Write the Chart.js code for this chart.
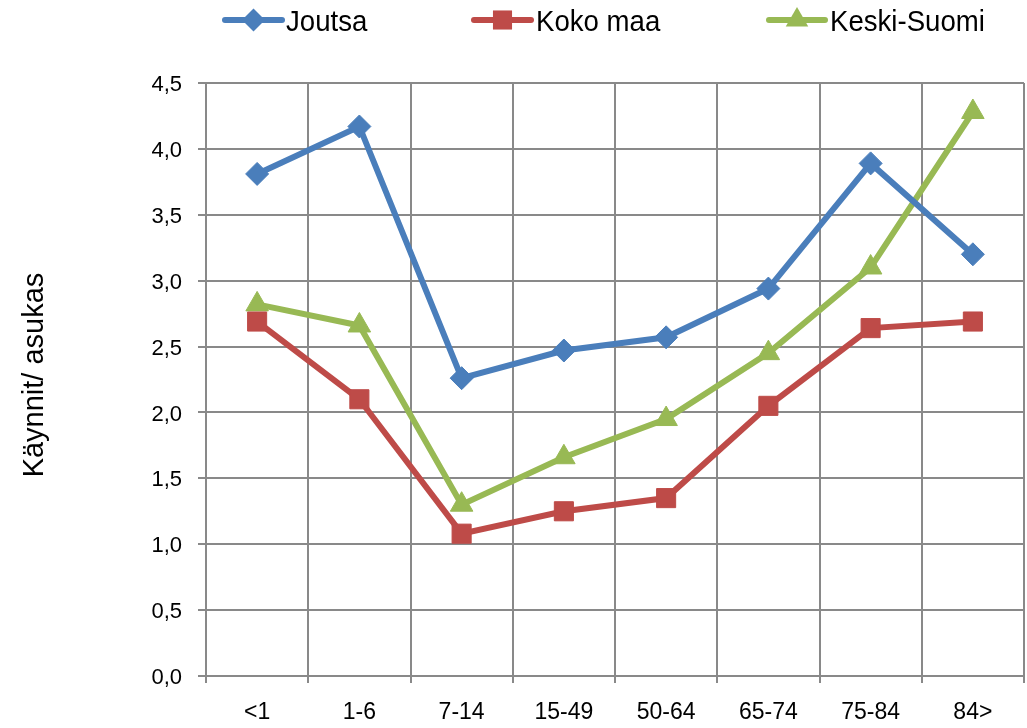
<!DOCTYPE html>
<html>
<head>
<meta charset="utf-8">
<script src="https://cdn.jsdelivr.net/npm/chart.js@4/dist/chart.umd.min.js"></script>
<style>
html,body{margin:0;padding:0;background:#fff;}
canvas{display:block;}
</style>
</head>
<body>
<canvas id="c" width="1027" height="728"></canvas>
<script>
const categories = ['<1', '1-6', '7-14', '15-49', '50-64', '65-74', '75-84', '84>'];
const joutsa = [3.81, 4.17, 2.26, 2.47, 2.57, 2.94, 3.89, 3.20];
const kokoMaa = [2.69, 2.10, 1.08, 1.25, 1.35, 2.05, 2.64, 2.69];
const keskiSuomi = [2.82, 2.66, 1.30, 1.66, 1.95, 2.45, 3.10, 4.28];
const seriesNames = ['Joutsa', 'Koko maa', 'Keski-Suomi'];
const yTitle = 'Käynnit/ asukas';

const COLORS = ['#4a7ebb', '#be4b48', '#98b954'];
const STYLES = ['rectRot', 'rect', 'triangle'];
const RADII = [11.5, 13.5, 13];
const GRID = '#898989';
const FAMILY = '"Liberation Sans", Arial, sans-serif';

function mkDataset(i, data) {
  return {
    label: seriesNames[i],
    data: data,
    borderColor: COLORS[i],
    backgroundColor: COLORS[i],
    borderWidth: 6,
    pointStyle: STYLES[i],
    pointRadius: RADII[i],
    pointBorderWidth: 1,
    pointBackgroundColor: COLORS[i],
    pointBorderColor: COLORS[i],
    tension: 0,
    clip: false
  };
}

function drawMarker(ctx, style, r, x, y) {
  if (style === 'rectRot') {
    ctx.moveTo(x, y - r); ctx.lineTo(x + r, y); ctx.lineTo(x, y + r); ctx.lineTo(x - r, y); ctx.closePath();
  } else if (style === 'rect') {
    const s = Math.SQRT1_2 * r;
    ctx.rect(x - s, y - s, 2 * s, 2 * s);
  } else {
    ctx.moveTo(x, y - r);
    ctx.lineTo(x + Math.sin(2 * Math.PI / 3) * r, y - Math.cos(2 * Math.PI / 3) * r);
    ctx.lineTo(x + Math.sin(4 * Math.PI / 3) * r, y - Math.cos(4 * Math.PI / 3) * r);
    ctx.closePath();
  }
}

const extras = {
  id: 'extras',
  afterDraw(chart) {
    const ctx = chart.ctx;
    ctx.save();
    ctx.fillStyle = '#000';
    ctx.font = '29px ' + FAMILY;
    ctx.translate(43, 375);
    ctx.rotate(-Math.PI / 2);
    ctx.textAlign = 'center';
    ctx.textBaseline = 'alphabetic';
    ctx.fillText(yTitle, 0, 0);
    ctx.restore();

    const items = [
      {x1: 225, x2: 282, tx: 286},
      {x1: 474, x2: 531, tx: 536},
      {x1: 769, x2: 825, tx: 830}
    ];
    const ly = 20;
    items.forEach((it, i) => {
      ctx.save();
      ctx.strokeStyle = COLORS[i];
      ctx.lineWidth = 6;
      ctx.lineCap = 'round';
      ctx.beginPath();
      ctx.moveTo(it.x1, ly);
      ctx.lineTo(it.x2, ly);
      ctx.stroke();
      ctx.fillStyle = COLORS[i];
      ctx.beginPath();
      drawMarker(ctx, STYLES[i], RADII[i], (it.x1 + it.x2) / 2, ly);
      ctx.fill();
      ctx.fillStyle = '#000';
      ctx.font = '30px ' + FAMILY;
      ctx.textAlign = 'left';
      ctx.textBaseline = 'alphabetic';
      ctx.translate(it.tx, 31);
      ctx.scale(0.92, 1);
      ctx.fillText(seriesNames[i], 0, 0);
      ctx.restore();
    });
  }
};

new Chart(document.getElementById('c'), {
  type: 'line',
  data: {
    labels: categories,
    datasets: [mkDataset(0, joutsa), mkDataset(1, kokoMaa), mkDataset(2, keskiSuomi)]
  },
  options: {
    responsive: false,
    devicePixelRatio: 1,
    animation: false,
    layout: {autoPadding: false, padding: {top: 83, right: 3, left: 0, bottom: 0}},
    plugins: {legend: {display: false}, tooltip: {enabled: false}},
    scales: {
      x: {
        type: 'category',
        offset: true,
        grid: {offset: true, color: GRID, lineWidth: 2, tickLength: 7, tickColor: GRID},
        border: {color: GRID, width: 2},
        ticks: {font: {family: FAMILY, size: 23}, color: '#000', padding: 16, maxRotation: 0, autoSkip: false},
        afterFit(s) { s.height = 52; s.paddingLeft = 0; s.paddingRight = 0; }
      },
      y: {
        min: 0,
        max: 4.5,
        grid: {color: GRID, lineWidth: 2, tickLength: 8, tickColor: GRID},
        border: {color: GRID, width: 2},
        ticks: {
          stepSize: 0.5,
          font: {family: FAMILY, size: 22},
          color: '#000',
          padding: 16,
          labelOffset: 2,
          callback: v => v.toFixed(1).replace('.', ',')
        },
        afterFit(s) { s.width = 206; s.paddingTop = 0; s.paddingBottom = 0; }
      }
    }
  },
  plugins: [extras]
});
</script>
</body>
</html>
